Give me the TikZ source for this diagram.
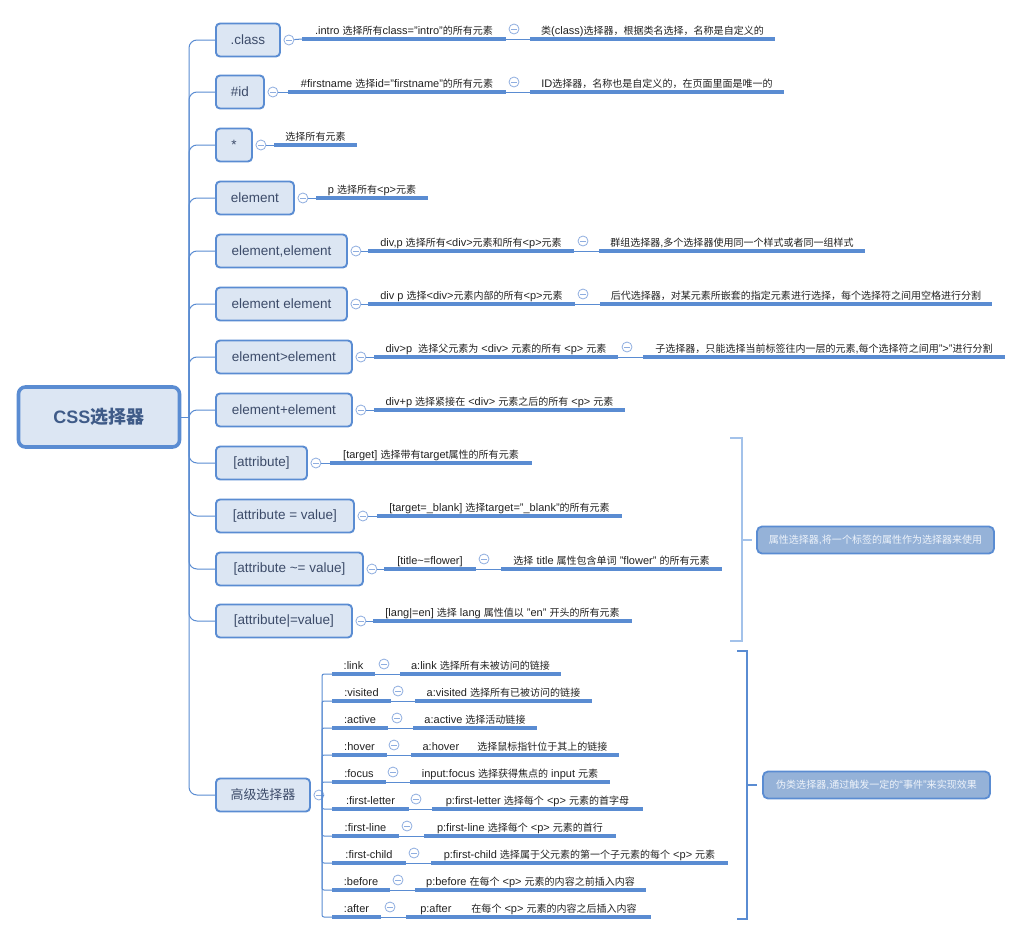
\documentclass[tikz,border=0pt]{standalone}
\usepackage{fontspec}
\setmainfont{Liberation Sans}
\newfontfamily\cjkL{Noto Sans CJK SC}[Scale=0.91]
\newfontfamily\cjkM{Noto Sans CJK SC}[Scale=0.96]
\newfontfamily\cjkN{Noto Sans CJK SC}
\def\curcjk{\cjkL}
\XeTeXinterchartokenstate=1
\chardef\CJKcls=42
\count255="3000
\loop \XeTeXcharclass\count255=\CJKcls \ifnum\count255<"303F \advance\count255 by 1 \repeat
\count255="4E00
\loop \XeTeXcharclass\count255=\CJKcls \ifnum\count255<"9FFF \advance\count255 by 1 \repeat
\count255="FF00
\loop \XeTeXcharclass\count255=\CJKcls \ifnum\count255<"FFEF \advance\count255 by 1 \repeat
\XeTeXinterchartoks 0 \CJKcls = {\curcjk}
\XeTeXinterchartoks 4095 \CJKcls = {\curcjk}
\XeTeXinterchartoks \CJKcls 0 = {\rmfamily}
\XeTeXinterchartoks \CJKcls 4095 = {\rmfamily}
\definecolor{mblue}{HTML}{5A8CD2}
\definecolor{bfill}{HTML}{DCE6F3}
\definecolor{l1txt}{HTML}{3C4B69}
\definecolor{rtxt}{HTML}{3F5B88}
\definecolor{cblue}{HTML}{8FAEE0}
\definecolor{brlight}{HTML}{A3C2EA}
\definecolor{sfill}{HTML}{95B2D8}
\definecolor{stxt}{HTML}{EEF3FA}
\definecolor{txt}{HTML}{222222}
\tikzset{
  rootbox/.style={draw=mblue, line width=3.6pt, fill=bfill, rounded corners=7pt,
    minimum width=161pt, minimum height=60pt, inner sep=0pt, text=rtxt,
    font={\fontsize{18}{22}\selectfont\bfseries\let\curcjk\cjkN}},
  l1/.style={draw=mblue, line width=1.9pt, fill=bfill, rounded corners=4pt,
    minimum height=33pt, inner sep=0pt, text=l1txt, anchor=west,
    font={\fontsize{13.5}{16}\selectfont\let\curcjk\cjkM}},
  lbl/.style={anchor=base, inner sep=0pt, text=txt, font={\fontsize{11}{13}\selectfont}},
  ul/.style={draw=mblue, line width=3.2pt},
  conn/.style={draw=mblue, line width=1pt},
  coll/.style={circle, draw=cblue, fill=white, minimum size=10pt, inner sep=0pt, line width=0.8pt,
    path picture={\draw[cblue, line width=0.8pt]
      ([xshift=-2.6pt]path picture bounding box.center) -- ([xshift=2.6pt]path picture bounding box.center);}},
  sumbox/.style={draw=mblue, line width=1.8pt, fill=sfill, rounded corners=5pt,
    minimum height=27pt, inner sep=0pt, text=stxt, font={\fontsize{11}{13}\selectfont}},
}
\newcommand\mmEntry[5]{%
  \coordinate (#1s) at (#2,#4);
  \coordinate (#1e) at (#3,#4);
  \draw[ul] (#1s) -- (#1e);
  \node[lbl] (#1) at ({(#2+#3)/2},{#4-5}) {#5};
}
\newcommand\mmColl[3]{\node[coll] (#1) at (#2,#3) {};}
\begin{document}
\begin{tikzpicture}[x=1pt,y=-1pt]
\useasboundingbox (0,0) rectangle (1023,937);
\fill[white] (0,0) rectangle (1023,937);

% root and spine
\node[rootbox] (root) at (99,417) {CSS选择器};
\coordinate (hub) at (189,417);
\draw[conn] (root.east) -- (hub);

% level 1
\node[l1, minimum width=64pt]  (c1)  at (215,40)  {.class};
\node[l1, minimum width=48pt]  (c2)  at (215,92)  {\#id};
\node[l1, minimum width=36pt]  (c3)  at (215,145) {*};
\node[l1, minimum width=78pt]  (c4)  at (215,198) {element};
\node[l1, minimum width=131pt] (c5)  at (215,251) {element,element};
\node[l1, minimum width=131pt] (c6)  at (215,304) {element element};
\node[l1, minimum width=136pt] (c7)  at (215,357) {element>element};
\node[l1, minimum width=136pt] (c8)  at (215,410) {element+element};
\node[l1, minimum width=91pt]  (c9)  at (215,463) {[attribute]};
\node[l1, minimum width=138pt] (c10) at (215,516) {[attribute = value]};
\node[l1, minimum width=147pt] (c11) at (215,569) {[attribute \textasciitilde= value]};
\node[l1, minimum width=136pt] (c12) at (215,621) {[attribute|=value]};
\node[l1, minimum width=94pt]  (c13) at (215,795) {高级选择器};

\foreach \i in {1,...,13}{
  \draw[conn, rounded corners=8pt] (hub) |- (c\i.west);
  \node[coll] (k\i) at ([xshift=8pt]c\i.east) {};
}

% level 2 on the main branches
\mmEntry{r1}{302}{506}{39}{.intro 选择所有class="intro"的所有元素}
\mmEntry{r2}{288}{506}{92}{\#firstname 选择id="firstname"的所有元素}
\mmEntry{r3}{274}{357}{145}{选择所有元素}
\mmEntry{r4}{316}{428}{198}{p 选择所有<p>元素}
\mmEntry{r5}{368}{574}{251}{div,p 选择所有<div>元素和所有<p>元素}
\mmEntry{r6}{368}{575}{304}{div p 选择<div>元素内部的所有<p>元素}
\mmEntry{r7}{374}{618}{357}{div>p\ \ 选择父元素为 <div> 元素的所有 <p> 元素}
\mmEntry{r8}{374}{625}{410}{div+p 选择紧接在 <div> 元素之后的所有 <p> 元素}
\mmEntry{r9}{330}{532}{463}{[target] 选择带有target属性的所有元素}
\mmEntry{r10}{377}{622}{516}{[target=\_blank] 选择target="\_blank"的所有元素}
\mmEntry{r11}{384}{476}{569}{[title\textasciitilde=flower]}
\mmEntry{r12}{373}{632}{621}{[lang|=en] 选择 lang 属性值以 "en" 开头的所有元素}
\foreach \i in {1,...,12}{\draw[conn] (k\i) -- (r\i s);}

% level 3 on the main branches
\mmEntry{t1}{530}{775}{39}{类(class)选择器，根据类名选择，名称是自定义的}
\mmEntry{t2}{530}{784}{92}{ID选择器，名称也是自定义的，在页面里面是唯一的}
\mmEntry{t5}{599}{865}{251}{群组选择器,多个选择器使用同一个样式或者同一组样式}
\mmEntry{t6}{600}{992}{304}{后代选择器，对某元素所嵌套的指定元素进行选择，每个选择符之间用空格进行分割}
\mmEntry{t7}{643}{1005}{357}{子选择器，只能选择当前标签往内一层的元素,每个选择符之间用">"进行分割}
\mmEntry{t11}{501}{722}{569}{选择 title 属性包含单词 "flower" 的所有元素}
\mmColl{q1}{514}{29}
\mmColl{q2}{514}{82}
\mmColl{q5}{583}{241}
\mmColl{q6}{583}{294}
\mmColl{q7}{627}{347}
\mmColl{q11}{484}{559}
\foreach \i in {1,2,5,6,7,11}{\draw[conn] (r\i e) -- (t\i s);}

% pseudo-class branch
\coordinate (hubb) at (322,795);
\draw[conn] (k13) -- (hubb);
\mmEntry{b1}{332}{375}{674}{:link}
\mmEntry{b2}{332}{391}{701}{:visited}
\mmEntry{b3}{332}{388}{728}{:active}
\mmEntry{b4}{332}{387}{755}{:hover}
\mmEntry{b5}{332}{386}{782}{:focus}
\mmEntry{b6}{332}{409}{809}{:first-letter}
\mmEntry{b7}{332}{399}{836}{:first-line}
\mmEntry{b8}{332}{406}{863}{:first-child}
\mmEntry{b9}{332}{390}{890}{:before}
\mmEntry{b10}{332}{381}{917}{:after}
\foreach \i in {1,...,10}{\draw[conn, rounded corners=2pt] (hubb) |- (b\i s);}

\mmEntry{p1}{400}{561}{674}{a:link 选择所有未被访问的链接}
\mmEntry{p2}{415}{592}{701}{a:visited 选择所有已被访问的链接}
\mmEntry{p3}{413}{537}{728}{a:active 选择活动链接}
\mmEntry{p4}{411}{619}{755}{a:hover\hspace{18pt}选择鼠标指针位于其上的链接}
\mmEntry{p5}{410}{610}{782}{input:focus 选择获得焦点的 input 元素}
\mmEntry{p6}{432}{643}{809}{p:first-letter 选择每个 <p> 元素的首字母}
\mmEntry{p7}{424}{616}{836}{p:first-line 选择每个 <p> 元素的首行}
\mmEntry{p8}{431}{728}{863}{p:first-child 选择属于父元素的第一个子元素的每个 <p> 元素}
\mmEntry{p9}{415}{646}{890}{p:before 在每个 <p> 元素的内容之前插入内容}
\mmEntry{p10}{406}{651}{917}{p:after\hspace{20pt}在每个 <p> 元素的内容之后插入内容}
\mmColl{w1}{384}{664}
\mmColl{w2}{398}{691}
\mmColl{w3}{397}{718}
\mmColl{w4}{394}{745}
\mmColl{w5}{393}{772}
\mmColl{w6}{416}{799}
\mmColl{w7}{407}{826}
\mmColl{w8}{414}{853}
\mmColl{w9}{398}{880}
\mmColl{w10}{390}{907}
\foreach \i in {1,...,10}{\draw[conn] (b\i e) -- (p\i s);}

% summaries
\node[sumbox, minimum width=237pt] (s1) at (875.5,540) {属性选择器,将一个标签的属性作为选择器来使用};
\node[sumbox, minimum width=227pt] (s2) at (876.5,785) {伪类选择器,通过触发一定的“事件”来实现效果};
\coordinate (m1) at (742,540);
\coordinate (m2) at (747,785);
\draw[brlight, line width=2.2pt] (730,438) -- (742,438) -- (742,641) -- (730,641);
\draw[brlight, line width=2.2pt] (m1) -- ([xshift=-4pt]s1.west);
\draw[mblue, line width=2.2pt] (737,651) -- (747,651) -- (747,919) -- (737,919);
\draw[mblue, line width=2.2pt] (m2) -- ([xshift=-5pt]s2.west);
\end{tikzpicture}
\end{document}
